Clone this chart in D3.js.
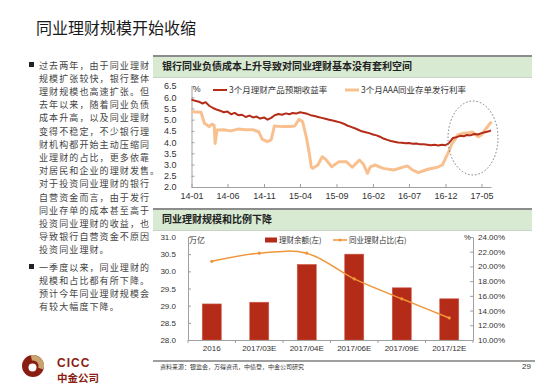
<!DOCTYPE html>
<html>
<head>
<meta charset="utf-8">
<script src="https://cdn.jsdelivr.net/npm/d3@7"></script>
<style>
  body { margin: 0; background: #fff; }
  svg { display: block; }
</style>
</head>
<body>
<div id="chart"></div>
<script>
// ---- data ----
const pageTitle = "同业理财规模开始收缩";
const bulletOne = [
    "过去两年，由于同业理财",
    "规模扩张较快，银行整体",
    "理财规模也高速扩张。但",
    "去年以来，随着同业负债",
    "成本升高，以及同业理财",
    "变得不稳定，不少银行理",
    "财机构都开始主动压缩同",
    "业理财的占比，更多依靠",
    "对居民和企业的理财发售。",
    "对于投资同业理财的银行",
    "自营资金而言，由于发行",
    "同业存单的成本甚至高于",
    "投资同业理财的收益，也",
    "导致银行自营资金不原因",
    "投资同业理财。"
];
const bulletTwo = [
    "一季度以来，同业理财的",
    "规模和占比都有所下降。",
    "预计今年同业理财规模会",
    "有较大幅度下降。"
];

const topTitle = "银行同业负债成本上升导致对同业理财基本没有套利空间";
const wmpName = "3个月理财产品预期收益率";
const ncdName = "3个月AAA同业存单发行利率";
const rateTicks = ["2014-01", "2014-06", "2014-11", "2015-04", "2015-09", "2016-02", "2016-07", "2016-12", "2017-05"];

const wmpDates = [
    "2014-01-01","2014-01-16","2014-02-01","2014-02-16","2014-03-01","2014-03-16","2014-04-01","2014-04-16",
    "2014-05-01","2014-05-16","2014-06-01","2014-06-16","2014-07-01","2014-07-16","2014-08-01","2014-08-16",
    "2014-09-01","2014-09-16","2014-10-01","2014-10-16","2014-11-01","2014-11-16","2014-12-01","2014-12-16",
    "2015-01-01","2015-01-16","2015-02-01","2015-02-16","2015-03-01","2015-03-16","2015-04-01","2015-04-16",
    "2015-05-01","2015-05-16","2015-06-01","2015-06-16","2015-07-01","2015-07-16","2015-08-01","2015-08-16",
    "2015-09-01","2015-09-16","2015-10-01","2015-10-16","2015-11-01","2015-11-16","2015-12-01","2015-12-16",
    "2016-01-01","2016-01-16","2016-02-01","2016-02-16","2016-03-01","2016-03-16","2016-04-01","2016-04-16",
    "2016-05-01","2016-05-16","2016-06-01","2016-06-16","2016-07-01","2016-07-16","2016-08-01","2016-08-16",
    "2016-09-01","2016-09-16","2016-10-01","2016-10-16","2016-11-01","2016-11-16","2016-12-01","2016-12-16",
    "2017-01-01","2017-01-16","2017-02-01","2017-02-16","2017-03-01","2017-03-16","2017-04-01","2017-04-16",
    "2017-05-01","2017-05-16","2017-06-01","2017-06-10"
];
const wmpValues = [
    5.90, 5.84, 5.80, 5.72, 5.78, 5.62, 5.52, 5.45,
    5.40, 5.33, 5.36, 5.24, 5.30, 5.20, 5.22, 5.12,
    5.18, 5.10, 5.14, 5.05, 5.10, 5.00, 5.08, 5.20,
    5.25, 5.22, 5.28, 5.24, 5.30, 5.27, 5.33, 5.30,
    5.26, 5.20, 5.16, 5.12, 5.08, 5.04, 5.00, 4.96,
    4.92, 4.88, 4.82, 4.74, 4.68, 4.62, 4.55, 4.48,
    4.44, 4.40, 4.34, 4.30, 4.24, 4.16, 4.10, 4.05,
    4.02, 3.98, 3.97, 3.95, 3.96, 3.93, 3.94, 3.90,
    3.90, 3.88, 3.86, 3.88, 3.85, 3.88, 3.86, 3.96,
    4.18, 4.22, 4.28, 4.26, 4.32, 4.30, 4.36, 4.34,
    4.40, 4.44, 4.48, 4.52
];

const ncdDates = [
    "2014-01-01","2014-02-10","2014-02-24","2014-03-16","2014-03-28","2014-04-06","2014-04-10","2014-04-18",
    "2014-05-15","2014-06-15","2014-07-15","2014-08-15","2014-09-15","2014-10-10","2014-10-25","2014-11-15",
    "2014-12-01","2014-12-15","2015-01-15","2015-02-15","2015-03-10","2015-03-28","2015-04-12","2015-04-28",
    "2015-05-10","2015-05-18","2015-05-25","2015-06-15","2015-07-03","2015-07-18","2015-08-12","2015-09-12",
    "2015-10-12","2015-11-06","2015-12-06","2015-12-24","2016-01-09","2016-01-21","2016-02-09","2016-03-15",
    "2016-04-28","2016-06-24","2016-07-15","2016-08-09","2016-09-18","2016-10-28","2016-11-18","2016-12-01",
    "2016-12-15","2016-12-28","2017-01-09","2017-01-21","2017-02-12","2017-03-09","2017-03-24","2017-04-18",
    "2017-05-01","2017-05-21","2017-06-12"
];
const ncdValues = [
    5.35, 5.33, 4.84, 4.69, 4.80, 4.75, 3.94, 4.54,
    4.55, 4.50, 4.58, 4.55, 4.55, 4.46, 4.12, 4.02,
    4.10, 4.72, 4.69, 4.70, 4.72, 5.02, 4.91, 4.20,
    3.50, 2.90, 2.83, 2.98, 3.35, 3.23, 2.90, 3.13,
    3.13, 2.88, 3.20, 3.00, 2.61, 2.90, 2.98, 2.83,
    2.76, 2.94, 2.76, 2.64, 2.79, 2.88, 2.98, 3.28,
    3.57, 3.94, 4.09, 4.32, 4.39, 4.42, 4.45, 4.24,
    4.32, 4.62, 4.91
];

const bottomTitle = "同业理财规模和比例下降";
const periods = ["2016", "2017/03E", "2017/04E", "2017/06E", "2017/09E", "2017/12E"];
const balance = [29.05, 29.1, 30.2, 30.5, 29.52, 29.2];   // 万亿
const share = [20.7, 21.8, 21.8, 18.3, 15.6, 13.0];        // %
const balanceName = "理财余额(左)";
const shareName = "同业理财占比(右)";

const sourceNote = "资料来源：银监会，万得资讯，中债登，中金公司研究";
const pageNo = "29";

// ---- page ----
const cjk = '"Noto Sans CJK SC", sans-serif';
const latin = '"Liberation Sans", Arial, sans-serif';
const darkRed = "#b42b18";
const lightOrange = "#f9c08f";
const lineOrange = "#f0963a";

const svg = d3.select("#chart")
    .append("svg")
    .attr("width", 550)
    .attr("height", 389);

svg.append("rect").attr("width", 550).attr("height", 389).attr("fill", "#fff");

svg.append("text")
    .attr("x", 36)
    .attr("y", 34)
    .text(pageTitle)
    .style("font-family", cjk)
    .style("font-size", "16px")
    .style("fill", "#1a1a1a");

// left text column
function drawBullet(lines, y0, step) {
    svg.append("rect")
        .attr("x", 29).attr("y", y0 - 6.5)
        .attr("width", 5).attr("height", 5)
        .attr("fill", "#222");
    svg.append("g").selectAll("text")
        .data(lines)
        .enter()
        .append("text")
        .attr("x", 39)
        .attr("y", (d, i) => y0 + i * step)
        .text(d => d)
        .style("font-family", cjk)
        .style("font-size", "9px")
        .style("letter-spacing", "1.1px")
        .style("fill", "#444");
}
drawBullet(bulletOne, 68.5, 13.2);
drawBullet(bulletTwo, 270.5, 13.1);

// logo
const logo = svg.append("g").attr("transform", "translate(33,366)");
logo.append("circle").attr("r", 11).attr("fill", "#8a1d12");
logo.append("path")
    .attr("d", d3.arc().innerRadius(5.5).outerRadius(11).startAngle(-0.2).endAngle(1.9)())
    .attr("fill", "#c9a46e");
logo.append("circle").attr("cx", -0.5).attr("cy", 1.5).attr("r", 4).attr("fill", "#fff");
svg.append("text")
    .attr("x", 57).attr("y", 367)
    .text("CICC")
    .style("font-family", latin)
    .style("font-weight", "bold")
    .style("font-size", "12px")
    .style("letter-spacing", "1px")
    .style("fill", "#8a1d12");
svg.append("text")
    .attr("x", 57).attr("y", 382)
    .text("中金公司")
    .style("font-family", cjk)
    .style("font-weight", "bold")
    .style("font-size", "10.5px")
    .style("fill", "#8a1d12");

// panel header bands
function drawHeader(y, label) {
    svg.append("rect")
        .attr("x", 153).attr("y", y)
        .attr("width", 379).attr("height", 21)
        .attr("fill", "#d9ead3");
    svg.append("line")
        .attr("x1", 153).attr("x2", 532)
        .attr("y1", y).attr("y2", y)
        .attr("stroke", "#8c8c8c").attr("stroke-width", 2);
    svg.append("line")
        .attr("x1", 153).attr("x2", 532)
        .attr("y1", y + 21.5).attr("y2", y + 21.5)
        .attr("stroke", "#c9d3c6").attr("stroke-width", 1);
    svg.append("text")
        .attr("x", 162).attr("y", y + 14)
        .text(label)
        .style("font-family", cjk)
        .style("font-weight", "bold")
        .style("font-size", "10px")
        .style("fill", "#222");
}
drawHeader(56, topTitle);
drawHeader(209, bottomTitle);

// ---- top chart: rates ----
const parseDay = d3.timeParse("%Y-%m-%d");
const parseMonth = d3.timeParse("%Y-%m");
const fmtMonth = d3.timeFormat("%y-%m");

const wmp = wmpDates.map((d, i) => ({ date: parseDay(d), value: wmpValues[i] }));
const ncd = ncdDates.map((d, i) => ({ date: parseDay(d), value: ncdValues[i] }));

const x = d3.scaleTime()
    .domain([parseDay("2014-01-01"), parseDay("2017-06-10")])
    .range([191.5, 491]);
const y = d3.scaleLinear()
    .domain([2, 6.5])
    .range([187, 86]);

const rateChart = svg.append("g");

const yAxis = rateChart.append("g")
    .attr("transform", "translate(191.5,0)")
    .call(d3.axisLeft(y).tickValues(d3.range(2, 6.51, 0.5)).tickFormat(d3.format(".1f"))
        .tickSizeInner(-3).tickSizeOuter(0).tickPadding(15));
const xAxis = rateChart.append("g")
    .attr("transform", "translate(0,187)")
    .call(d3.axisBottom(x).tickValues(rateTicks.map(parseMonth)).tickFormat(fmtMonth)
        .tickSizeInner(-3).tickSizeOuter(0).tickPadding(6));
[yAxis, xAxis].forEach(a => {
    a.select(".domain").attr("stroke", "#a0a0a0");
    a.selectAll(".tick line").attr("stroke", "#a0a0a0");
    a.selectAll("text")
        .style("font-family", latin)
        .style("font-size", "9px")
        .style("fill", "#333");
});

const rateLine = d3.line()
    .x(d => x(d.date))
    .y(d => y(d.value));

rateChart.append("path")
    .datum(ncd)
    .attr("d", rateLine)
    .attr("fill", "none")
    .attr("stroke", lightOrange)
    .attr("stroke-width", 3)
    .attr("stroke-linejoin", "round");
rateChart.append("path")
    .datum(wmp)
    .attr("d", rateLine)
    .attr("fill", "none")
    .attr("stroke", darkRed)
    .attr("stroke-width", 2)
    .attr("stroke-linejoin", "round");

// dotted ellipse around the recent period
rateChart.append("ellipse")
    .attr("cx", 473).attr("cy", 138)
    .attr("rx", 25).attr("ry", 37)
    .attr("fill", "none")
    .attr("stroke", "#777")
    .attr("stroke-width", 1)
    .attr("stroke-dasharray", "1.5,2");

rateChart.append("text")
    .attr("x", 193).attr("y", 92)
    .text("%")
    .style("font-family", latin)
    .style("font-size", "8.5px")
    .style("fill", "#333");

const topLegend = [
    { name: wmpName, color: darkRed, width: 2, x: 213 },
    { name: ncdName, color: lightOrange, width: 3, x: 345 }
];
const tl = rateChart.selectAll(".legend")
    .data(topLegend)
    .enter()
    .append("g");
tl.append("line")
    .attr("x1", d => d.x).attr("x2", d => d.x + 14)
    .attr("y1", 90).attr("y2", 90)
    .attr("stroke", d => d.color)
    .attr("stroke-width", d => d.width);
tl.append("text")
    .attr("x", d => d.x + 16).attr("y", 93)
    .text(d => d.name)
    .style("font-family", cjk)
    .style("font-size", "8.5px")
    .style("fill", "#333");

// ---- bottom chart: balance and share ----
const xb = d3.scaleBand()
    .domain(periods)
    .range([188, 473])
    .paddingInner(0.6)
    .paddingOuter(0.3);
const yl = d3.scaleLinear().domain([28, 31]).range([340, 237]);
const yr = d3.scaleLinear().domain([10, 24]).range([340, 237]);

const scaleChart = svg.append("g");

scaleChart.selectAll(".bar")
    .data(periods)
    .enter()
    .append("rect")
    .attr("x", d => xb(d))
    .attr("y", (d, i) => yl(balance[i]))
    .attr("width", xb.bandwidth())
    .attr("height", (d, i) => yl(28) - yl(balance[i]))
    .attr("fill", darkRed)
    .attr("stroke", "#d0584a")
    .attr("stroke-width", 0.6);

const leftAxis = scaleChart.append("g")
    .attr("transform", "translate(188,0)")
    .call(d3.axisLeft(yl).tickValues(d3.range(28, 31.01, 0.5)).tickFormat(d3.format(".1f"))
        .tickSizeInner(-3).tickSizeOuter(0).tickPadding(12));
const rightAxis = scaleChart.append("g")
    .attr("transform", "translate(473,0)")
    .call(d3.axisRight(yr).tickValues(d3.range(10, 24.01, 2)).tickFormat(d => d3.format(".2f")(d) + "%")
        .tickSizeInner(-3).tickSizeOuter(0).tickPadding(5));
const catAxis = scaleChart.append("g")
    .attr("transform", "translate(0,340)")
    .call(d3.axisBottom(xb).tickSize(0).tickPadding(5));
[leftAxis, rightAxis, catAxis].forEach(a => {
    a.select(".domain").attr("stroke", "#a0a0a0");
    a.selectAll(".tick line").attr("stroke", "#a0a0a0");
    a.selectAll("text")
        .style("font-family", latin)
        .style("font-size", "8px")
        .style("fill", "#333");
});
// separators between categories
scaleChart.append("g").selectAll("line")
    .data(d3.range(periods.length + 1))
    .enter()
    .append("line")
    .attr("x1", i => 188 + i * xb.step()).attr("x2", i => 188 + i * xb.step())
    .attr("y1", 340).attr("y2", 343)
    .attr("stroke", "#a0a0a0");

const shareLine = d3.line()
    .x((d, i) => xb(periods[i]) + xb.bandwidth() / 2)
    .y(d => yr(d))
    .curve(d3.curveCatmullRom.alpha(0.5));
scaleChart.append("path")
    .datum(share)
    .attr("d", shareLine)
    .attr("fill", "none")
    .attr("stroke", lineOrange)
    .attr("stroke-width", 1.5);
scaleChart.selectAll(".pt")
    .data(share)
    .enter()
    .append("circle")
    .attr("cx", (d, i) => xb(periods[i]) + xb.bandwidth() / 2)
    .attr("cy", d => yr(d))
    .attr("r", 1.6)
    .attr("fill", lineOrange);

scaleChart.append("text")
    .attr("x", 189).attr("y", 243)
    .text("万亿")
    .style("font-family", cjk)
    .style("font-size", "8px")
    .style("fill", "#333");
scaleChart.append("text")
    .attr("x", 464).attr("y", 240)
    .text("%")
    .style("font-family", latin)
    .style("font-size", "7.5px")
    .style("fill", "#333");

// bottom legend
scaleChart.append("rect")
    .attr("x", 265).attr("y", 237.5)
    .attr("width", 12).attr("height", 5)
    .attr("fill", darkRed);
scaleChart.append("text")
    .attr("x", 279).attr("y", 242.5)
    .text(balanceName)
    .style("font-family", cjk)
    .style("font-size", "7.5px")
    .style("fill", "#333");
scaleChart.append("line")
    .attr("x1", 333).attr("x2", 347)
    .attr("y1", 240).attr("y2", 240)
    .attr("stroke", lineOrange)
    .attr("stroke-width", 1.5);
scaleChart.append("circle")
    .attr("cx", 340).attr("cy", 240).attr("r", 1.6)
    .attr("fill", lineOrange);
scaleChart.append("text")
    .attr("x", 349).attr("y", 242.5)
    .text(shareName)
    .style("font-family", cjk)
    .style("font-size", "7.5px")
    .style("fill", "#333");

// footer
svg.append("line")
    .attr("x1", 153).attr("x2", 535)
    .attr("y1", 361).attr("y2", 361)
    .attr("stroke", "#7f7f7f")
    .attr("stroke-width", 1.5);
svg.append("text")
    .attr("x", 160).attr("y", 369)
    .text(sourceNote)
    .style("font-family", cjk)
    .style("font-size", "6px")
    .style("fill", "#333");
svg.append("text")
    .attr("x", 522).attr("y", 369)
    .text(pageNo)
    .style("font-family", latin)
    .style("font-size", "8px")
    .style("fill", "#333");
</script>
</body>
</html>
